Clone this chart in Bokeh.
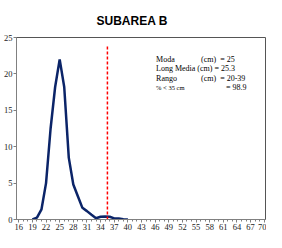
from bokeh.plotting import figure
from bokeh.models import FixedTicker, Range1d, Label, Title
from bokeh.embed import file_html
from bokeh.resources import INLINE

# Data
sizes = list(range(19, 41))
freq = [0.0, 0.25, 1.4, 5.0, 12.5, 18.2, 22.0, 18.2, 8.5, 4.8, 3.2, 1.6,
        1.15, 0.65, 0.17, 0.38, 0.4, 0.38, 0.15, 0.15, 0.05, 0.0]
cutoff_x = [35.5]
cutoff_y0 = [0]
cutoff_y1 = [24]
x_ticks = list(range(16, 71, 3))
x_minor = list(range(16, 71))
y_ticks = [0, 5, 10, 15, 20, 25]
title_text = "SUBAREA B"

p = figure(width=266, height=232, output_backend="svg", toolbar_location=None,
           x_range=Range1d(15.5, 70.5), y_range=Range1d(0, 25),
           min_border_left=0, min_border_right=0, min_border_top=37,
           min_border_bottom=0)
p.add_layout(Title(text=title_text, text_font="Liberation Sans",
                   text_font_size="12px", text_font_style="bold",
                   align="left", offset=80, standoff=19,
                   text_color="#000000"), "above")

p.grid.visible = False
p.outline_line_color = "#555555"
p.outline_line_width = 1
p.background_fill_color = "white"
p.border_fill_color = "white"

p.line(sizes, freq, line_color="#0b2468", line_width=2.5)
p.segment(x0=cutoff_x, y0=cutoff_y0, x1=cutoff_x, y1=cutoff_y1,
          line_color="#ff0000", line_width=1.5, line_dash="3 2")

p.xaxis.ticker = FixedTicker(ticks=x_ticks, minor_ticks=x_minor)
p.yaxis.ticker = FixedTicker(ticks=y_ticks, minor_ticks=[])
for ax in (p.xaxis, p.yaxis):
    ax.axis_line_color = "#808080"
    ax.major_tick_line_color = "#808080"
    ax.minor_tick_line_color = "#808080"
    ax.major_label_text_font = "Liberation Serif"
    ax.major_label_text_font_size = "8.5px"
    ax.major_label_text_color = "#222222"
    ax.major_tick_in = 0
    ax.major_tick_out = 3
    ax.minor_tick_in = 0
    ax.minor_tick_out = 2
    ax.major_label_standoff = 1
    ax.axis_label_standoff = 0

fs = "8px"
font = "Liberation Serif"
texts = [
    (46.2, 22.0, "Moda", fs), (56.1, 22.0, "(cm)", fs), (60.3, 22.0, "= 25", fs),
    (46.2, 20.7, "Long Media (cm) = 25.3", fs),
    (46.2, 19.4, "Rango", fs), (56.1, 19.4, "(cm)", fs), (60.3, 19.4, "= 20-39", fs),
    (46.2, 18.2, "% < 35 cm", "6.5px"), (61.6, 18.2, "= 98.9", fs),
]
for x, y, t, size in texts:
    p.add_layout(Label(x=x, y=y, text=t, text_font=font, text_font_size=size,
                       text_baseline="middle", text_align="left",
                       text_color="#000000"))

open("out.html", "w").write(file_html(p, INLINE))
